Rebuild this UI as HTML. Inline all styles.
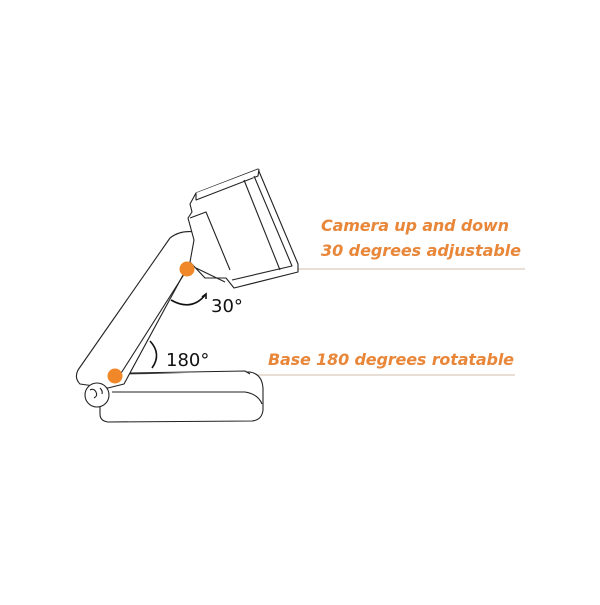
<!DOCTYPE html>
<html><head><style>body{margin:0;background:#fff}</style></head><body>
<svg width="600" height="600" viewBox="0 0 600 600" xmlns="http://www.w3.org/2000/svg">
<rect width="600" height="600" fill="#fff"/>
<g fill="none" stroke="#d9cbbd" stroke-width="1.3">
<line x1="200" y1="269" x2="525" y2="269"/>
<line x1="128" y1="375" x2="515" y2="375"/>
</g>
<g fill="#fff" stroke="#222" stroke-width="1.1" stroke-linejoin="round">
<!-- base -->
<path d="M112 374 L250 372 Q262 374 263 388 L263 410 Q262 420 252 421 L108 422 Q100 421 100 414 L100 402 Z"/>
<path d="M112 392 L245 392 Q258 394 262 404"/>
<path d="M130 373 L245 371 L250 374" />
<!-- arm -->
<path d="M170 238 Q180 230 195 232 L202 240 L124 384 L108 388 L80 384 Q74 378 78 370 Z"/>
<path d="M188 268 L118 378"/>
<!-- joint -->
<circle cx="97" cy="395" r="12"/>
<path d="M90 390 q4 -2 6 2 q2 4 -2 6 M100 388 q3 3 2 6"/>
<!-- camera -->
<path d="M196 193 L258 169 L298 264 L298 272 L234 288 L226 278 L205 278 L190 262 L194 240 L188 218 L192 212 L190 204 Z"/>
<path d="M196 193 L196 200 L258 176 L259 169"/>
<path d="M254 176 L292 266 L232 280"/>
<path d="M244 180 L280 270"/>
<path d="M190 218 L206 212 L230 270"/>
<path d="M196 268 L225 282"/>
</g>
<circle cx="187" cy="269" r="7.5" fill="#f0882a"/>
<circle cx="115" cy="376" r="7.5" fill="#f0882a"/>
<g fill="none" stroke="#111" stroke-width="1.6">
<path d="M171 300 Q192 312 206 294"/>
<path d="M202 297 l4 -3 l0 5"/>
<path d="M150 341 Q162 354 152 368"/>
</g>
<g font-family="'DejaVu Sans','Liberation Sans',sans-serif" fill="#111" font-size="18">
<text x="211" y="312">30°</text>
<text x="166" y="366">180°</text>
</g>
<g font-family="'DejaVu Sans','Liberation Sans',sans-serif" fill="#e8873a" font-size="16" font-weight="bold" font-style="italic">
<text x="321" y="231" textLength="188">Camera up and down</text>
<text x="321" y="256" textLength="200">30 degrees adjustable</text>
<text x="268" y="365" textLength="246">Base 180 degrees rotatable</text>
</g>
</svg>
</body></html>
